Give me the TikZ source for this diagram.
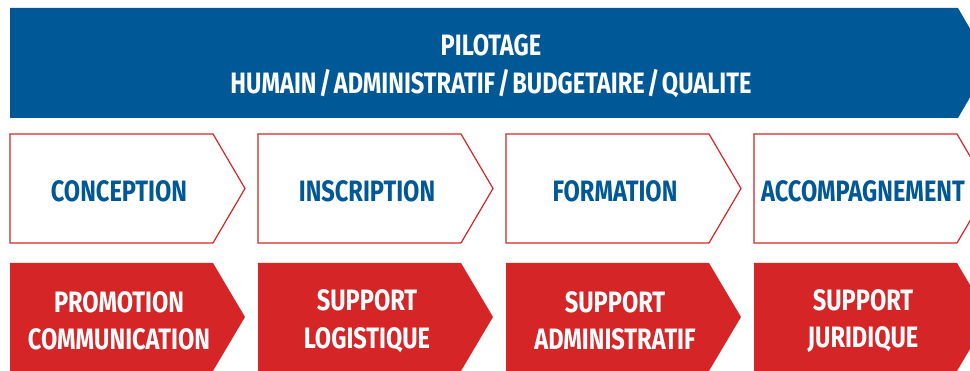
\documentclass[tikz,border=0pt]{standalone}
\usepackage{fontspec}
\usepackage{tikz}
\usepackage{xcolor}
\usetikzlibrary{positioning}

\newfontfamily\diagfont{Fira Sans}[FakeStretch=0.8]
\definecolor{pilotblue}{RGB}{0,88,150}
\definecolor{supportred}{RGB}{213,37,39}
\newcommand{\sep}{\hspace{2.5pt}/\hspace{2.5pt}}

\tikzset{
    pilotbox/.style={fill=pilotblue},
    etapebox/.style={fill=white, draw=supportred, line width=1.2pt},
    supportbox/.style={fill=supportred},
    diagtext/.style={font=\diagfont\bfseries\fontsize{29.5}{37.5}\selectfont, align=center, inner sep=0pt},
    etapetext/.style={diagtext, text=pilotblue},
    supporttext/.style={diagtext, text=white}
}

\begin{document}
\begin{tikzpicture}[x=1pt, y=-1pt]
            \useasboundingbox (0, 0) rectangle (970, 371);
            \clip (0, 0) rectangle (970, 371);

            % pilotage banner
            \path[pilotbox] (10, 8) -- ++(948, 0) -- ++(32, 55) -- ++(-32, 55) -- ++(-948, 0) -- cycle;
            \node[diagtext, text=white] (pilotage) at (491, 66) {PILOTAGE\\HUMAIN\sep ADMINISTRATIF\sep BUDGETAIRE\sep QUALITE};

            % etapes
            \path[etapebox] (10, 134) -- ++(203, 0) -- ++(32, 54.5) -- ++(-32, 54.5) -- ++(-203, 0) -- cycle;
            \path[etapebox] (258, 134) -- ++(203, 0) -- ++(32, 54.5) -- ++(-32, 54.5) -- ++(-203, 0) -- cycle;
            \path[etapebox] (506, 134) -- ++(203, 0) -- ++(32, 54.5) -- ++(-32, 54.5) -- ++(-203, 0) -- cycle;
            \path[etapebox] (754, 134) -- ++(203, 0) -- ++(32, 54.5) -- ++(-32, 54.5) -- ++(-203, 0) -- cycle;
            \node[etapetext] (conception) at (119, 191) {CONCEPTION};
            \node[etapetext] (inscription) at (367, 191) {INSCRIPTION};
            \node[etapetext] (formation) at (615, 191) {FORMATION};
            \node[etapetext] (accompagnement) at (863, 191) {ACCOMPAGNEMENT};

            % supports
            \path[supportbox] (10, 263) -- ++(203, 0) -- ++(32, 54) -- ++(-32, 54) -- ++(-203, 0) -- cycle;
            \path[supportbox] (258, 263) -- ++(203, 0) -- ++(32, 54) -- ++(-32, 54) -- ++(-203, 0) -- cycle;
            \path[supportbox] (506, 263) -- ++(203, 0) -- ++(32, 54) -- ++(-32, 54) -- ++(-203, 0) -- cycle;
            \path[supportbox] (754, 263) -- ++(203, 0) -- ++(32, 54) -- ++(-32, 54) -- ++(-203, 0) -- cycle;
            \node[supporttext] (promotion) at (119, 321) {PROMOTION\\COMMUNICATION};
            \node[supporttext] (logistique) at (367, 321) {SUPPORT\\LOGISTIQUE};
            \node[supporttext] (administratif) at (615, 321) {SUPPORT\\ADMINISTRATIF};
            \node[supporttext] (juridique) at (863, 321) {SUPPORT\\JURIDIQUE};
\end{tikzpicture}
\end{document}
